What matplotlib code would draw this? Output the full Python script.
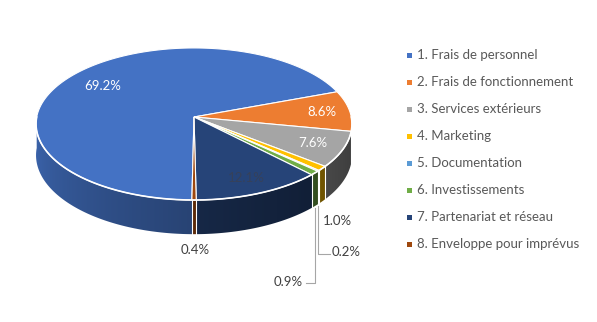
import numpy as np
import matplotlib.pyplot as plt
from matplotlib.colors import to_rgb
from matplotlib.patches import Polygon, Rectangle

plt.rcParams['font.family'] = ['Lato', 'DejaVu Sans']

# Budget breakdown (% of total)
categories = ['1. Frais de personnel', '2. Frais de fonctionnement', '3. Services extérieurs',
              '4. Marketing', '5. Documentation', '6. Investissements',
              '7. Partenariat et réseau', '8. Enveloppe pour imprévus']
shares = [69.2, 8.6, 7.6, 1.0, 0.2, 0.9, 12.1, 0.4]
colors = ['#4472C4', '#ED7D31', '#A5A5A5', '#FFC000', '#5B9BD5', '#70AD47', '#264478', '#9E480E']

# pie geometry in pixel space (y grows downward)
cx, cy = 194, 117
rx, ry = 157.3, 75.4
persp = 0.092
depth = 31
start = 180.7   # first slice starts here, clockwise from 12 o'clock


def project(theta, drop=0.0):
    t = np.radians(theta)
    ux, uy = np.sin(t), -np.cos(t)
    k = 1 / (1 - persp * uy)
    return cx + rx * ux * k, cy + (ry * uy + drop) * k


fig = plt.figure(figsize=(5.97, 3.22), dpi=100)
ax = fig.add_axes([0, 0, 1, 1])
ax.set_xlim(0, 597)
ax.set_ylim(322, 0)
ax.axis('off')

bounds = start + 3.6 * np.concatenate([[0], np.cumsum(shares)])

# side wall: one shaded image, column colour picked from the slice under it
th_front = np.linspace(95.3, 264.7, 2000)
xf, _ = project(th_front)
order = np.argsort(xf)
cols_x = np.arange(0, 400) + 0.5
theta_col = np.interp(cols_x, xf[order], th_front[order])
wall = np.ones((1, len(cols_x), 3))
for j, t in enumerate(theta_col):
    tt = t if t >= start else t + 360
    idx = min(np.searchsorted(bounds, tt, side='right') - 1, len(colors) - 1)
    pos = np.clip((t - 90) / 180, 0, 1)
    f = 0.35 + 0.55 * pos ** 1.2
    wall[0, j] = np.array(to_rgb(colors[idx])) * f

th = np.linspace(90, 270, 300)
xt, yt = project(th)
xb, yb = project(th[::-1], depth)
wall_poly = Polygon(list(zip(xt, yt)) + list(zip(xb, yb)), closed=True, fc='none', ec='none')
ax.add_patch(wall_poly)
im = ax.imshow(wall, extent=(0, 400, 0, 322), aspect='auto', interpolation='nearest')
im.set_clip_path(wall_poly)
ax.set_xlim(0, 597)
ax.set_ylim(322, 0)

# white seams on the side at slice boundaries
for t in bounds[1:]:
    if 90 < t % 360 < 270:
        x0, y0 = project(t)
        x1, y1 = project(t, depth)
        ax.plot([x0, x1], [y0, y1], color='white', lw=0.8)

# top face
for i, col in enumerate(colors):
    arc = np.linspace(bounds[i], bounds[i + 1], max(3, int(shares[i] * 3.6)))
    xs, ys = project(arc)
    pts = [(cx, cy)] + list(zip(xs, ys))
    ax.add_patch(Polygon(pts, closed=True, fc=col, ec='white', lw=0.8))

# white rim along the front edge
ax.plot(xt, yt, color='white', lw=1.2)

# data labels
inside = {0: 0.75, 1: 0.82, 2: 0.8, 6: 0.8}
text_col = {0: 'white', 1: 'white', 2: 'white', 6: '#36415a'}
for i, r in inside.items():
    mid = np.radians((bounds[i] + bounds[i + 1]) / 2)
    ux, uy = np.sin(mid), -np.cos(mid)
    k = 1 / (1 - persp * uy)
    ax.text(cx + r * rx * ux * k, cy + r * ry * uy * k, f'{shares[i]:.1f}%',
            color=text_col[i], fontsize=9.5, ha='center', va='center')

ax.text(337, 221, f'{shares[3]:.1f}%', color='#404040', fontsize=9.5, ha='center', va='center')
ax.text(195, 250, f'{shares[7]:.1f}%', color='#404040', fontsize=9.5, ha='center', va='center')

# leader lines for the thinnest slices
for i, ly, lx, ha in [(4, 254, 330, 'left'), (5, 283, 306, 'right')]:
    mid = (bounds[i] + bounds[i + 1]) / 2
    xm, ym = project(mid, depth)
    ax.plot([xm, xm, lx], [ym + 2, ly, ly], color='#a6a6a6', lw=0.8)
    tx = lx + 2 if ha == 'left' else lx - 3
    ax.text(tx, ly - 1.5, f'{shares[i]:.1f}%', color='#404040', fontsize=9.5, ha=ha, va='center')

# legend
for i, (name, col) in enumerate(zip(categories, colors)):
    y = 55 + 27 * i
    ax.add_patch(Rectangle((407, y - 2.5), 5, 5, fc=col, ec='none'))
    ax.text(417, y, name, color='#595959', fontsize=9.5, va='center', ha='left')

fig.savefig('out.png', dpi=100)
